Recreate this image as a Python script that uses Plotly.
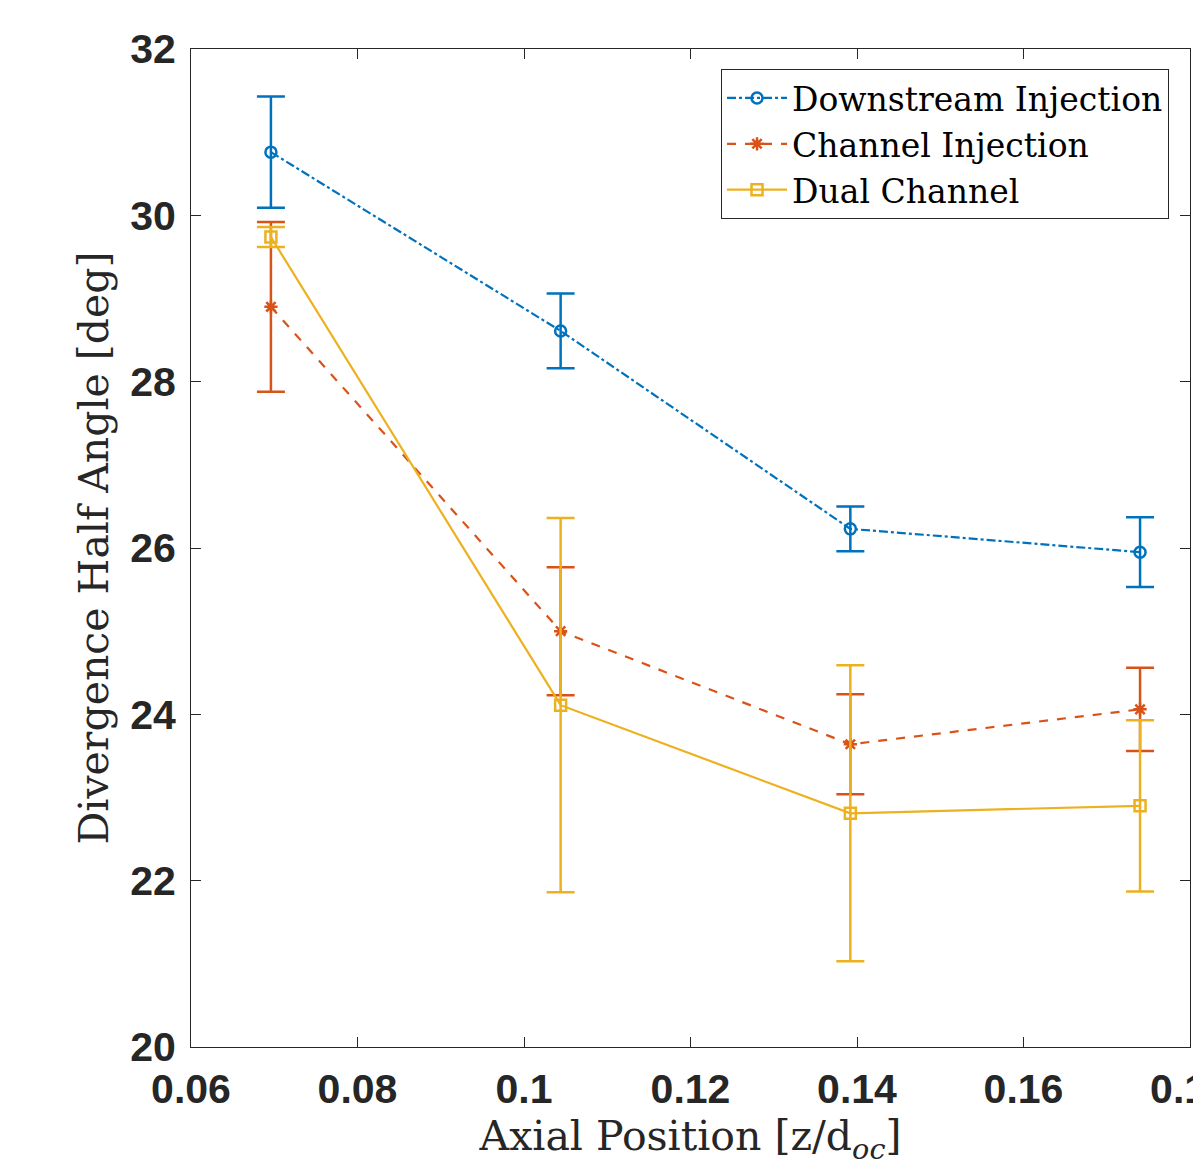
import plotly.graph_objects as go

x_pos = [0.0696, 0.1044, 0.1392, 0.1740]

down_y = [30.76, 28.61, 26.23, 25.95]
down_err = [0.67, 0.45, 0.27, 0.42]

chan_y = [28.90, 25.00, 23.64, 24.06]
chan_err = [1.02, 0.77, 0.60, 0.50]

dual_y = [29.74, 24.11, 22.81, 22.90]
dual_err = [0.12, 2.25, 1.78, 1.03]

x_ticks = [0.06, 0.08, 0.10, 0.12, 0.14, 0.16, 0.18]
x_ticktext = ["0.06", "0.08", "0.1", "0.12", "0.14", "0.16", "0.18"]
y_ticks = [20, 22, 24, 26, 28, 30, 32]

names = ["Downstream Injection", "Channel Injection", "Dual Channel"]
colors = ["#0072BD", "#D95319", "#EDB120"]
dashes = ["dashdot", "dash", "solid"]
symbols = ["circle-open", "asterisk-open", "square-open"]

fig = go.Figure()
for name, ys, es, c, d, s in zip(names, [down_y, chan_y, dual_y], [down_err, chan_err, dual_err], colors, dashes, symbols):
    fig.add_trace(go.Scatter(
        x=x_pos, y=ys, name=name, mode="lines+markers",
        line=dict(color=c, width=2.2, dash=d),
        marker=dict(symbol=s, size=11, color=c, line=dict(color=c, width=2.5)),
        error_y=dict(type="data", array=es, visible=True, color=c, thickness=2.5, width=14),
    ))

axis_common = dict(
    showline=True, linecolor="#262626", linewidth=1, mirror="ticks",
    ticks="inside", ticklen=10, tickcolor="#262626", tickwidth=1,
    showgrid=False, zeroline=False, ticklabeloverflow="allow",
    tickfont=dict(family="Liberation Sans", size=41, color="#262626", weight="bold"),
)

title_font = dict(family="DejaVu Serif", size=41, color="#262626")

fig.update_xaxes(range=[0.06, 0.18], tickvals=x_ticks, ticktext=x_ticktext,
                 ticklabelstandoff=6,
                 title=dict(text="Axial Position [z/d<sub><i>oc</i></sub>]",
                            font=title_font, standoff=10),
                 automargin=False, **axis_common)
fig.update_yaxes(range=[20, 32], tickvals=y_ticks, ticklabelstandoff=6,
                 title=dict(text="Divergence Half Angle [deg]",
                            font=title_font, standoff=8),
                 automargin=False, **axis_common)

fig.update_layout(
    width=1193, height=1168,
    margin=dict(l=191, r=3, t=49, b=121, autoexpand=False),
    paper_bgcolor="white", plot_bgcolor="white",
    showlegend=True,
    legend=dict(x=0.979, y=0.98, xanchor="right", yanchor="top",
                bordercolor="#262626", borderwidth=1, bgcolor="white",
                font=dict(family="DejaVu Serif", size=33, color="black"),
                tracegroupgap=0, itemwidth=60),
)

fig.write_html("out.html")
